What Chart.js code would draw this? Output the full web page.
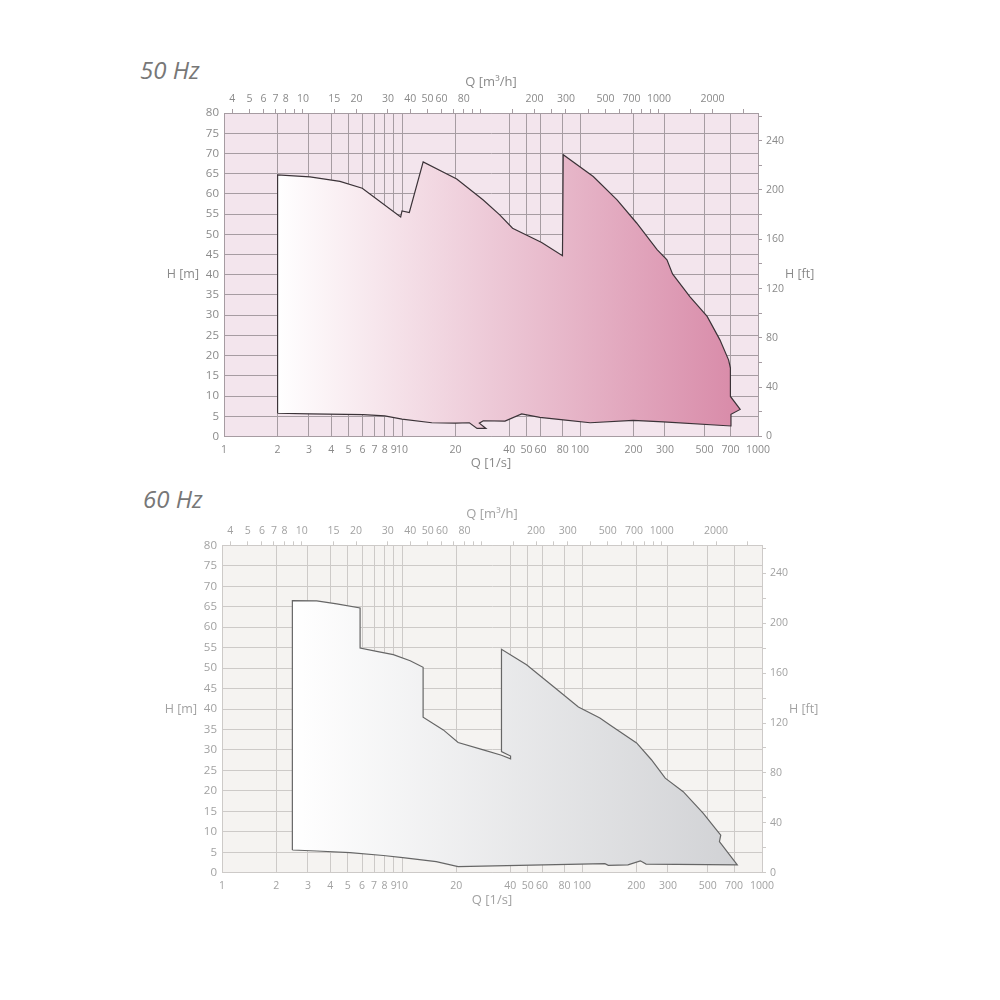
<!DOCTYPE html>
<html>
<head>
<meta charset="utf-8">
<script src="https://cdn.jsdelivr.net/npm/chart.js@4.4.1/dist/chart.umd.min.js"></script>
<style>
    body { margin: 0; background: #fff; }
    #page { position: relative; width: 1000px; height: 1000px; overflow: hidden; }
    .hz { position: absolute; font: italic 24px "Open Sans", sans-serif; color: #777; line-height: 1; }
    .box { position: absolute; left: 0; width: 1000px; }
</style>
</head>
<body>
<div id="page">
    <div class="hz" style="left:140px;top:58px">50 Hz</div>
    <div class="box" style="top:0;height:480px"><canvas id="chart50"></canvas></div>
    <div class="hz" style="left:143px;top:487px">60 Hz</div>
    <div class="box" style="top:430px;height:490px"><canvas id="chart60"></canvas></div>
</div>
<script>
// Q [l/s] - bottom axis labels, also where the vertical grid lines sit
const qTicks = [1, 2, 3, 4, 5, 6, 7, 8, 9, 10, 20, 40, 50, 60, 80, 100, 200, 300, 500, 700, 1000];
// Q [m3/h] - top axis tick marks and the ones that get a label
const m3hTicks = [4, 5, 6, 7, 8, 9, 10, 15, 20, 30, 40, 50, 60, 70, 80, 90, 100, 150, 200, 250, 300, 400, 500, 600, 700, 800, 900, 1000, 1500, 2000, 3000];
const m3hLabels = [4, 5, 6, 7, 8, 10, 15, 20, 30, 40, 50, 60, 80, 200, 300, 500, 700, 1000, 2000];
// H [ft] - right axis
const ftTicks = [0, 20, 40, 60, 80, 100, 120, 140, 160, 180, 200, 220, 240, 260];
const ftLabels = [0, 40, 80, 120, 160, 200, 240];

// 50 Hz operating range outline (Q l/s, H m), clockwise from lower left
const q50 = [2, 2, 3.04, 4.48, 5.98, 9.83, 10, 10.99, 13.15, 20.3, 28.6, 35.4, 41.8, 60.9, 79.7,
    80.5, 118.7, 161.5, 208, 271, 308, 331, 414, 518, 611, 684, 700, 700, 794, 705, 705,
    294, 199, 114, 80.6, 59.5, 47, 37.9, 28.6, 27.2, 29.6, 26.4, 23.9, 19.9, 14.7, 10, 8, 6.06, 3.04, 2];
const h50 = [5.75, 64.7, 64.2, 63.1, 61.4, 54.3, 55.8, 55.4, 67.9, 63.7, 58.5, 54.8, 51.5, 48.0, 44.7,
    69.7, 64.3, 58.5, 52.8, 46.2, 43.7, 40.2, 34.6, 29.7, 23.9, 18.9, 16.9, 9.9, 6.7, 5.5, 2.6,
    3.6, 4.0, 3.4, 4.1, 4.75, 5.6, 3.8, 3.9, 3.3, 2.0, 2.0, 3.4, 3.3, 3.4, 4.3, 5.1, 5.4, 5.6, 5.75];

// 60 Hz operating range outline
const q60 = [2.46, 2.46, 3.36, 4.34, 5.85, 5.85, 7.23, 8.95, 11.1, 13.1, 13.1, 16.96, 20.5, 28.3, 35.7,
    40.1, 40.1, 35.7, 35.7, 49.2, 69.3, 95.5, 125.7, 143, 201, 243, 290, 365, 472, 560, 590, 580, 729,
    227, 211, 180, 140, 134, 20.5, 15.5, 10.1, 7.87, 5.14, 3.36, 2.46];
const h60 = [5.55, 66.5, 66.4, 65.7, 64.7, 54.9, 54.1, 53.3, 51.8, 50.2, 38.0, 34.9, 31.8, 30.0, 28.7,
    27.8, 28.5, 29.6, 54.6, 50.8, 45.5, 40.5, 37.8, 36.1, 31.7, 27.6, 23.1, 19.8, 14.5, 10.4, 9.2, 7.6, 1.9,
    2.1, 2.9, 1.9, 1.8, 2.2, 1.5, 2.7, 3.7, 4.2, 4.9, 5.3, 5.55];

// plot background + the unrotated H labels beside the side axes
const framePlugin = {
    id: 'frame',
    beforeDraw(chart, args, opts) {
        const { ctx, chartArea: a } = chart;
        ctx.save();
        ctx.fillStyle = opts.background;
        ctx.fillRect(a.left, a.top, a.right - a.left, a.bottom - a.top);
        ctx.restore();
    },
    afterDraw(chart, args, opts) {
        const { ctx, chartArea: a, scales } = chart;
        const y = scales.y.getPixelForValue(40);
        ctx.save();
        ctx.font = '12.5px "Open Sans"';
        ctx.fillStyle = opts.color;
        ctx.textBaseline = 'middle';
        ctx.textAlign = 'right';
        ctx.fillText('H [m]', a.left - 25, y);
        ctx.textAlign = 'left';
        ctx.fillText('H [ft]', a.right + 27, y);
        ctx.restore();
    }
};

function makeChart(id, q, h, st) {
    const points = q.map((v, i) => ({ x: v, y: h[i] }));
    const tickFont = { family: 'Open Sans', size: 10.5 };
    const titleFont = { family: 'Open Sans', size: 13 };

    return new Chart(document.getElementById(id), {
        type: 'line',
        data: {
            datasets: [{
                data: points,
                borderColor: st.line,
                borderWidth: 1.2,
                pointRadius: 0,
                tension: 0,
                fill: 'shape',
                backgroundColor: c => {
                    const chart = c.chart;
                    const xs = chart.scales.x;
                    if (!chart.chartArea || !xs) return st.fillTo;
                    const g = chart.ctx.createLinearGradient(xs.getPixelForValue(st.from), 0, xs.getPixelForValue(st.to), 0);
                    g.addColorStop(0, '#ffffff');
                    g.addColorStop(1, st.fillTo);
                    return g;
                }
            }]
        },
        options: {
            responsive: true,
            maintainAspectRatio: false,
            animation: false,
            events: [],
            layout: { padding: st.padding },
            plugins: {
                legend: { display: false },
                tooltip: { enabled: false },
                frame: { background: st.bg, color: st.text }
            },
            scales: {
                x: {
                    type: 'logarithmic',
                    position: 'bottom',
                    min: 1,
                    max: 1000,
                    afterBuildTicks: s => { s.ticks = qTicks.map(v => ({ value: v })); },
                    afterFit: s => { s.height = 40; },
                    grid: { color: st.grid, drawTicks: false },
                    border: { color: st.grid },
                    ticks: { color: st.text, font: tickFont, padding: 7, autoSkip: false, maxRotation: 0, callback: v => String(v) },
                    title: { display: true, text: 'Q [1/s]', color: st.text, font: titleFont, padding: { top: 0, bottom: 5 } }
                },
                xTop: {
                    type: 'logarithmic',
                    position: 'top',
                    min: 3.6,
                    max: 3600,
                    afterBuildTicks: s => { s.ticks = m3hTicks.map(v => ({ value: v })); },
                    afterFit: s => { s.height = 45; },
                    grid: { color: st.grid, drawOnChartArea: false, tickLength: 4 },
                    border: { color: st.grid },
                    ticks: {
                        color: st.text, font: tickFont, padding: 4, autoSkip: false, maxRotation: 0,
                        callback: v => m3hLabels.includes(v) ? String(v) : ''
                    },
                    title: { display: true, text: 'Q [m³/h]', color: st.text, font: titleFont, padding: { top: 6, bottom: 0 } }
                },
                y: {
                    position: 'left',
                    min: 0,
                    max: 80,
                    afterFit: s => { s.width = 40; },
                    grid: { color: st.grid, drawTicks: false },
                    border: { color: st.grid },
                    ticks: { stepSize: 5, color: st.text, font: { family: 'Open Sans', size: 11.5 }, padding: 5 }
                },
                yFt: {
                    position: 'right',
                    min: 0,
                    max: 80 * 3.28084,
                    afterBuildTicks: s => { s.ticks = ftTicks.map(v => ({ value: v })); },
                    afterFit: s => { s.width = 40; },
                    grid: { color: st.grid, drawOnChartArea: false, tickLength: 4 },
                    border: { color: st.grid },
                    ticks: {
                        color: st.text, font: tickFont, padding: 4,
                        callback: v => ftLabels.includes(v) ? String(v) : ''
                    }
                }
            }
        },
        plugins: [framePlugin]
    });
}

makeChart('chart50', q50, h50, {
    bg: '#f3e5ed',
    grid: '#a69ca2',
    text: '#8a8a8a',
    line: '#3b3338',
    fillTo: '#d88aa8',
    from: 2,
    to: 800,
    padding: { left: 184, right: 202, top: 68, bottom: 3.5 }
});

makeChart('chart60', q60, h60, {
    bg: '#f5f3f1',
    grid: '#cdcac8',
    text: '#a2a2a2',
    line: '#666666',
    fillTo: '#d1d2d5',
    from: 2.46,
    to: 730,
    padding: { left: 182, right: 198, top: 70.3, bottom: 7.3 }
});
</script>
</body>
</html>
